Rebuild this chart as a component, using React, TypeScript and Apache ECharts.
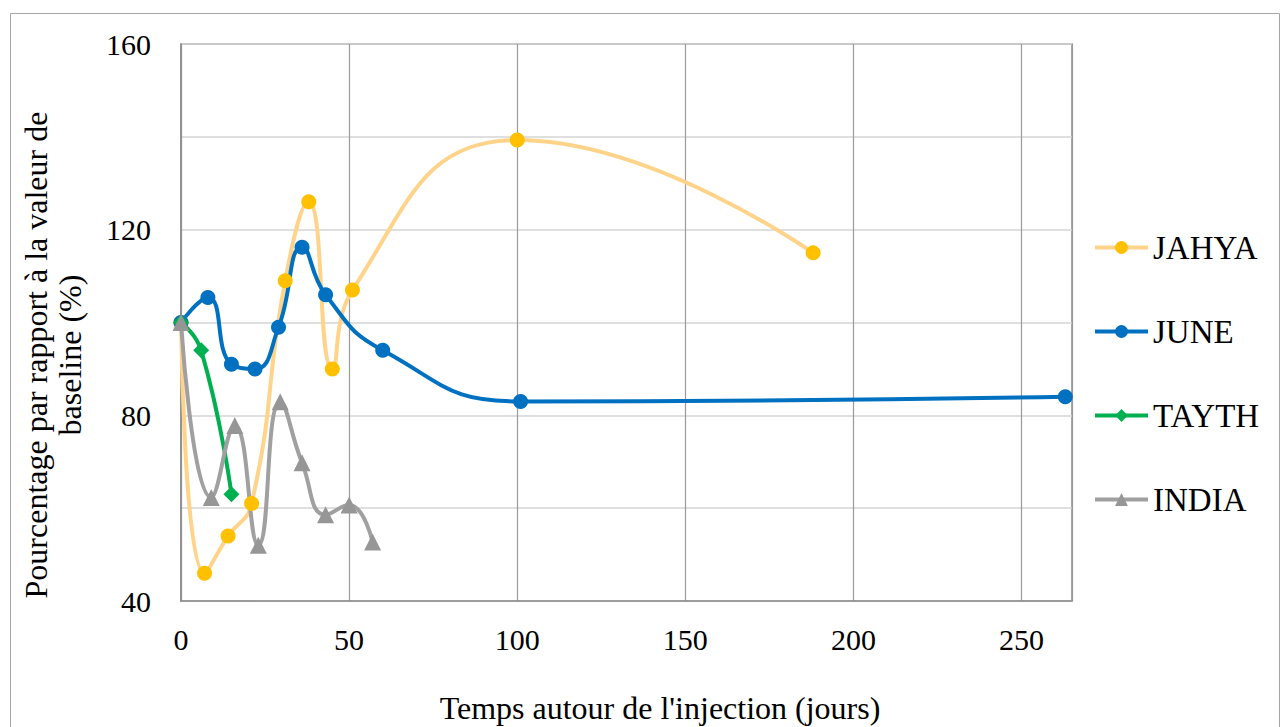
import React, { useEffect, useRef } from "react";
import * as echarts from "echarts";

const seriesNames = ["JAHYA", "JUNE", "TAYTH", "INDIA"];

const jahyaX = [0, 7, 14, 21, 31, 38, 45, 51, 100, 188];
const jahyaY = [100, 46, 54, 61, 109, 126, 90, 107, 139.3, 115];

const juneX = [0, 8, 15, 22, 29, 36, 43, 60, 101, 263];
const juneY = [100, 105.4, 91, 90, 99, 116.2, 106, 94, 83, 84];

const tayX = [0, 6, 15];
const tayY = [100, 94, 63];

const indiaX = [0, 9, 16, 23, 29.5, 36, 43, 50, 57];
const indiaY = [100, 62.3, 77.8, 52, 82.9, 69.8, 58.6, 60.7, 52.7];

const xTicks = { min: 0, max: 265, interval: 50 };
const yTicks = { min: 40, max: 160, interval: 20, labelEvery: 40 };

const xTitle = "Temps autour de l'injection (jours)";
const yTitle = "Pourcentage par rapport à la valeur de\nbaseline (%)";

const pairs = (xs: number[], ys: number[]) => xs.map((x, i) => [x, ys[i]]);

const FONT = "'Liberation Serif', 'Times New Roman', serif";

export default function App() {
  const ref = useRef<HTMLDivElement>(null);
  useEffect(() => {
    if (!ref.current) return;
    const chart = echarts.init(ref.current, undefined, { renderer: "svg" });
    const mk = (
      name: string,
      data: number[][],
      lineColor: string,
      markColor: string,
      symbol: string,
      size: number
    ) => ({
      name,
      type: "line",
      data,
      smooth: 0.5,
      symbol,
      symbolSize: size,
      lineStyle: { color: lineColor, width: 4 },
      itemStyle: { color: markColor },
      showAllSymbol: true,
    });
    chart.setOption({
      animation: false,
      backgroundColor: "#ffffff",
      grid: {
        left: 181,
        top: 44,
        right: 210,
        bottom: 126,
        show: true,
        borderColor: "#8c8c8c",
        borderWidth: 1.5,
      },
      xAxis: {
        type: "value",
        min: xTicks.min,
        max: xTicks.max,
        interval: xTicks.interval,
        axisLine: { show: true, lineStyle: { color: "#8c8c8c", width: 1.5 } },
        axisTick: { show: false },
        splitLine: { show: true, lineStyle: { color: "#9a9a9a", width: 1.2 } },
        axisLabel: {
          showMaxLabel: false,
          margin: 23,
          color: "#000",
          fontFamily: FONT,
          fontSize: 30,
          formatter: (v: number) => (v % xTicks.interval === 0 ? String(v) : ""),
        },
      },
      yAxis: {
        type: "value",
        min: yTicks.min,
        max: yTicks.max,
        interval: yTicks.interval,
        axisLine: { show: true, lineStyle: { color: "#8c8c8c", width: 1.5 } },
        axisTick: { show: false },
        splitLine: { show: true, lineStyle: { color: "#d4d4d4", width: 1.5 } },
        axisLabel: {
          margin: 30,
          color: "#000",
          fontFamily: FONT,
          fontSize: 30,
          formatter: (v: number) => (v % yTicks.labelEvery === 0 ? String(v) : ""),
        },
      },
      legend: {
        orient: "vertical",
        left: 1088,
        top: 226,
        itemWidth: 53,
        itemHeight: 16,
        itemGap: 51,
        lineStyle: { width: 4 },
        textStyle: { fontFamily: FONT, fontSize: 33, color: "#000" },
        data: seriesNames,
      },
      graphic: [
        {
          type: "rect",
          shape: { x: 10.5, y: 13.5, width: 1269, height: 740 },
          style: { fill: "none", stroke: "#a6a6a6", lineWidth: 1 },
          silent: true,
          z: -10,
        },
        {
          type: "text",
          x: 660,
          y: 708,
          style: {
            text: xTitle,
            fontFamily: FONT,
            fontSize: 32,
            fill: "#000",
            textAlign: "center",
            textVerticalAlign: "middle",
          },
        },
        {
          type: "text",
          x: 53,
          y: 355,
          rotation: Math.PI / 2,
          style: {
            text: yTitle,
            fontFamily: FONT,
            fontSize: 32,
            lineHeight: 34,
            fill: "#000",
            textAlign: "center",
            textVerticalAlign: "middle",
          },
        },
      ],
      series: [
        mk(seriesNames[0], pairs(jahyaX, jahyaY), "#FFD48A", "#FFC000", "circle", 15),
        mk(seriesNames[1], pairs(juneX, juneY), "#0070C0", "#0070C0", "circle", 15),
        mk(seriesNames[2], pairs(tayX, tayY), "#00B050", "#00B050", "diamond", 16),
        mk(seriesNames[3], pairs(indiaX, indiaY), "#A0A0A0", "#969696", "triangle", 17),
      ],
    });
    return () => chart.dispose();
  }, []);
  return (
    <div
      ref={ref}
      style={{ position: "fixed", left: 0, top: 0, width: 1282, height: 727, background: "#fff" }}
    />
  );
}
